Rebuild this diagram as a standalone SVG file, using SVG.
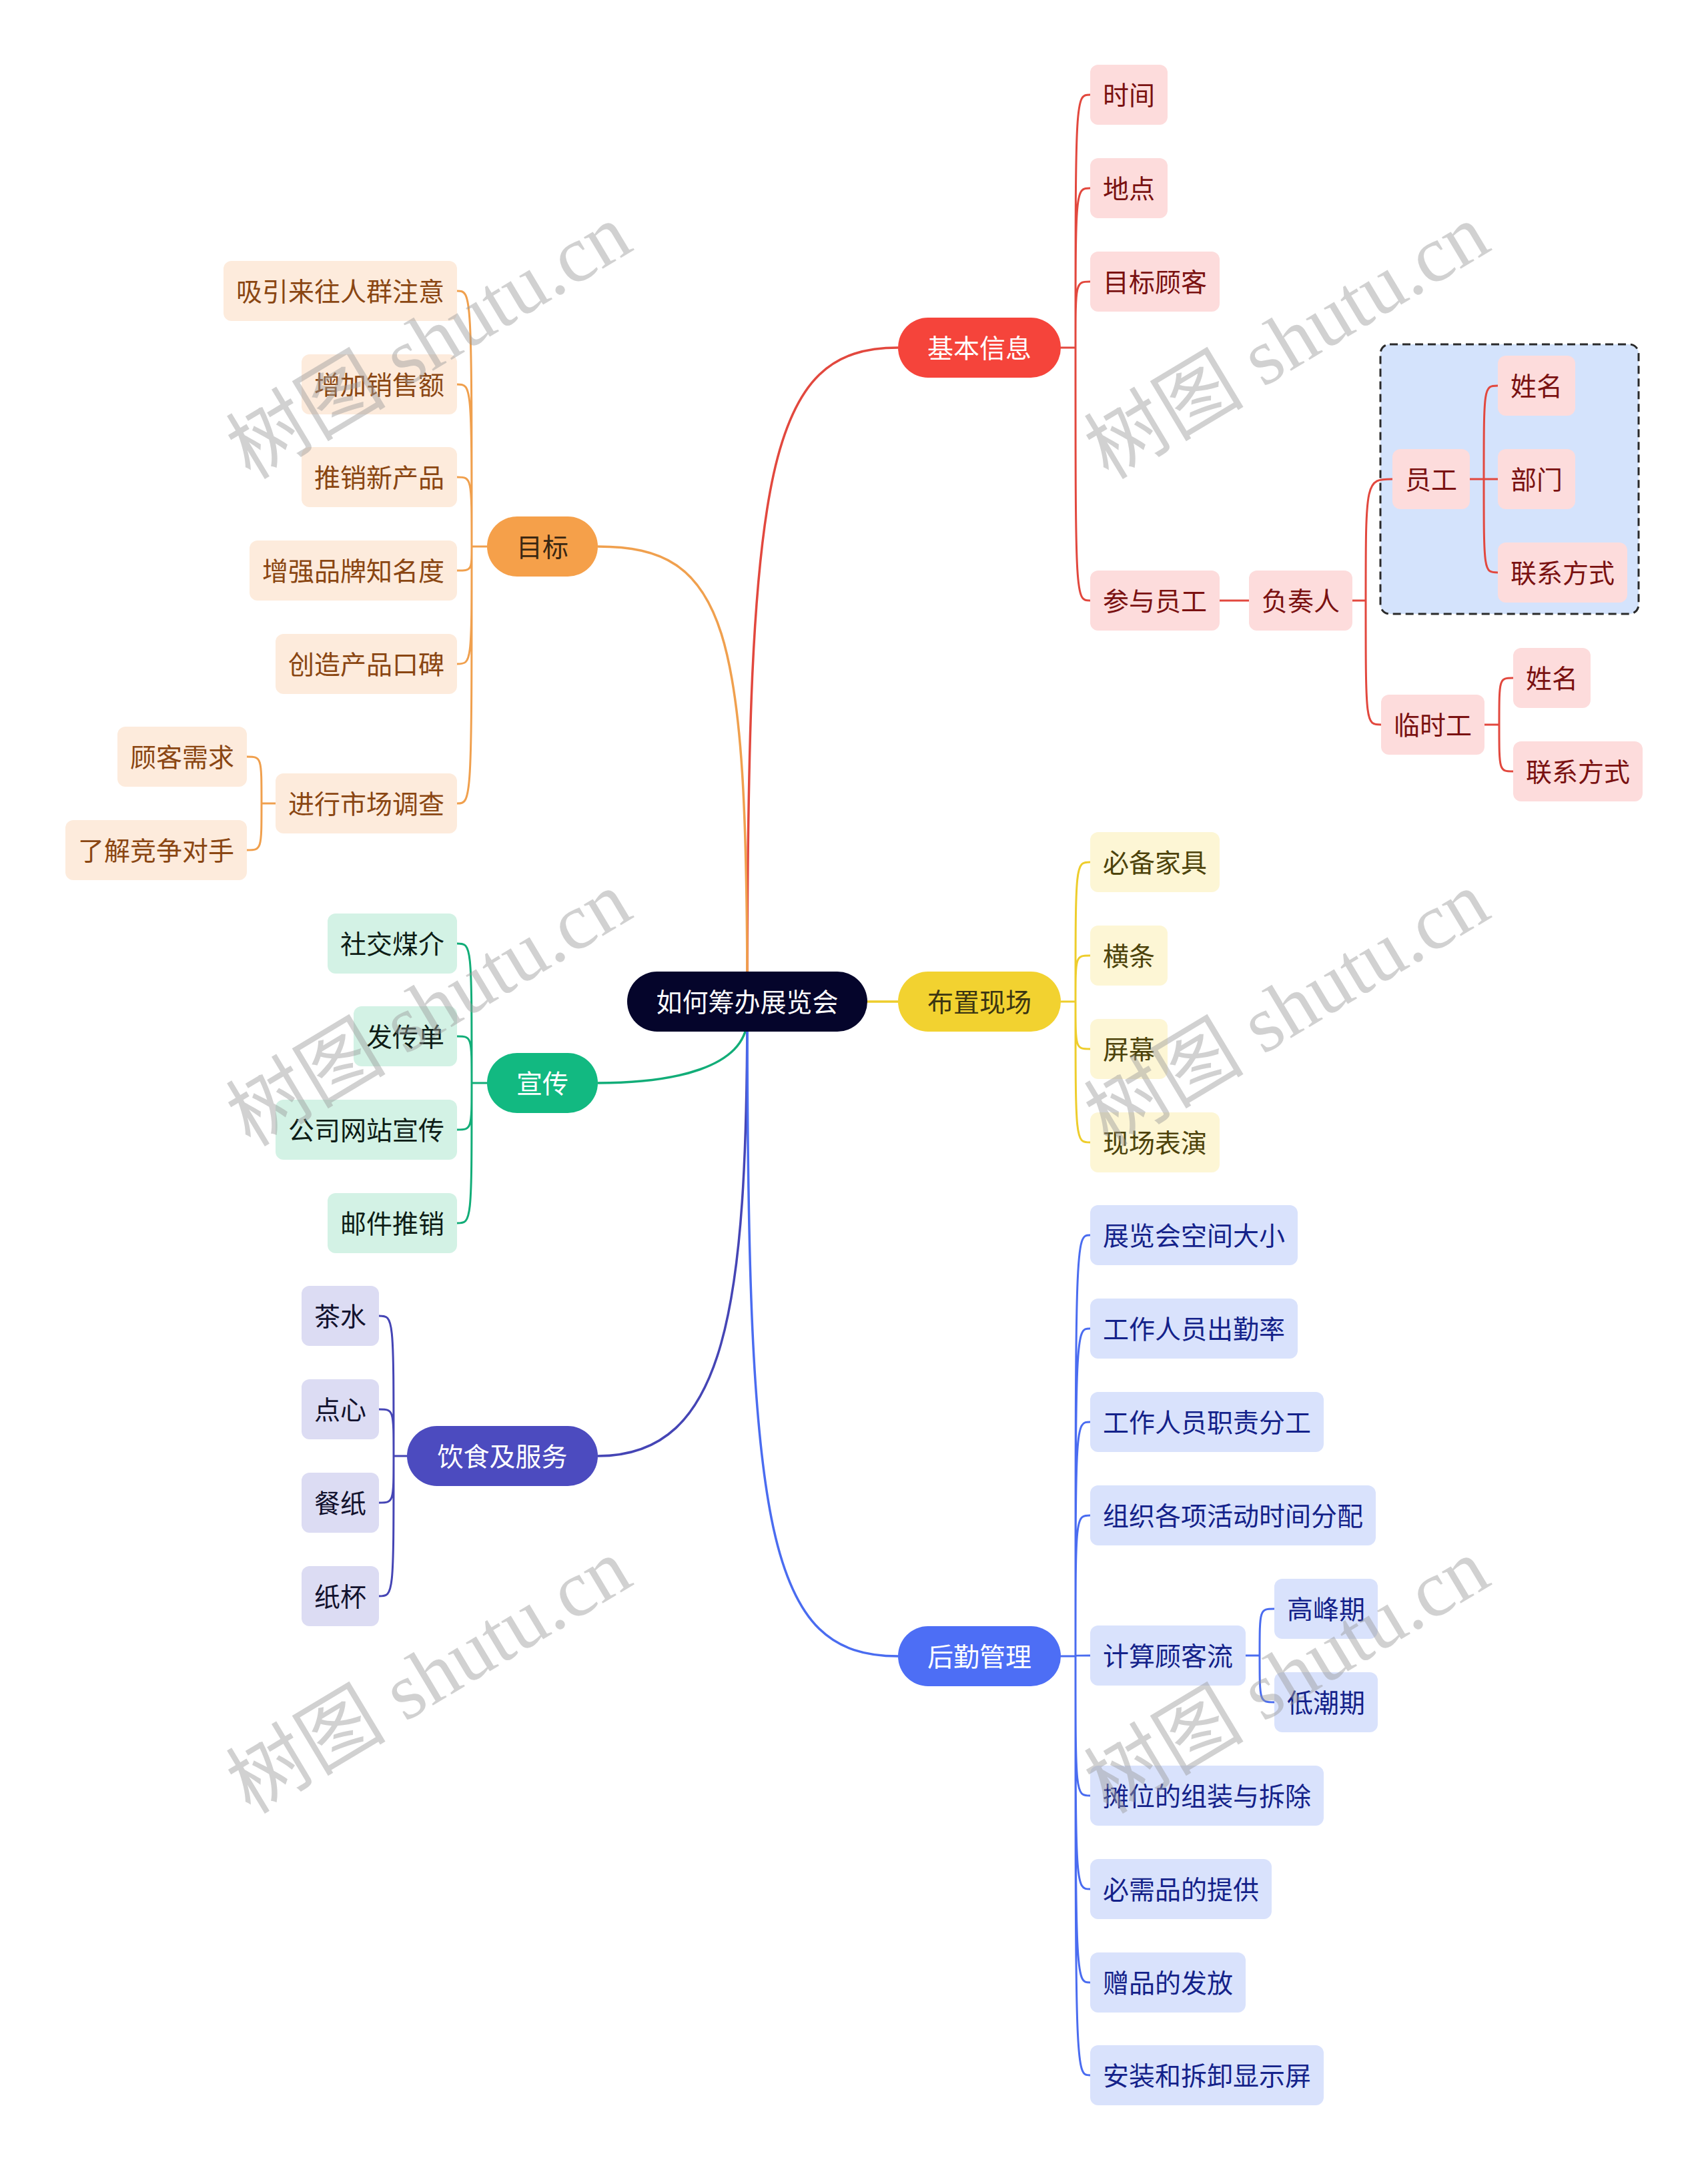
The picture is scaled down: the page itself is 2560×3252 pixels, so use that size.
<svg xmlns="http://www.w3.org/2000/svg" width="2560" height="3252" viewBox="0 0 2560 3252">
<style>
.t{font-family:"Noto Sans CJK SC","Noto Sans",sans-serif;font-size:39px;text-anchor:middle;dominant-baseline:central;transform:translateY(-2px)}
.wm{font-family:"Liberation Serif","Noto Sans CJK SC",serif;font-size:120px;fill:#9a9a9a;fill-opacity:.45;text-anchor:middle;dominant-baseline:central}
.c{fill:none;stroke-width:3;stroke-linecap:round}
.m{fill:none;stroke-width:3.5}
.red{stroke:#e2483e}.org{stroke:#f0a04e}.yel{stroke:#eecd2c}.grn{stroke:#12ad78}.ind{stroke:#4545b5}.blu{stroke:#4a6cf0}
.lr{fill:#fddcdc}.tr{fill:#7a1111}
.lo{fill:#fdebdc}.to{fill:#8a4612}
.ly{fill:#fdf6d5}.ty{fill:#4d430b}
.lg{fill:#d3f2e5}.tg{fill:#0e1d16}
.li{fill:#dcdcf3}.ti{fill:#12122e}
.lb{fill:#d9e2fc}.tb{fill:#14228a}
.w{fill:#ffffff}
</style>
<rect width="2560" height="3252" fill="#ffffff"/>
<rect id="group-yuangong" x="2069" y="516" width="387" height="404" rx="14" fill="#d4e3fc" stroke="#2a2a2a" stroke-width="3" stroke-dasharray="12 7"/>
<g id="connectors">
<path class="m red" d="M1120 1501C1120 700 1150 521 1346 521"/>
<path class="m org" d="M1120 1501C1120 940 1091 819 896 819"/>
<path class="m yel" d="M1120 1501H1346"/>
<path class="m grn" d="M1120 1530C1115 1600 1010 1623 896 1623"/>
<path class="m ind" d="M1120 1501C1120 1960 1090 2182 896 2182"/>
<path class="m blu" d="M1120 1501C1120 2300 1150 2482 1346 2482"/>
<path class="c red" d="M1590 521H1612C1612 142 1612 142 1634 142M1590 521H1612C1612 282 1612 282 1634 282M1590 521H1612C1612 422 1612 422 1634 422M1590 521H1612C1612 900 1612 900 1634 900M1828 900H1872M2027 900H2047C2047 718 2047 718 2087 718M2027 900H2047C2047 1086 2047 1086 2070 1086M2203 718H2224C2224 578 2224 578 2245 578M2203 718H2245M2203 718H2224C2224 858 2224 858 2245 858M2225 1086H2247C2247 1016 2247 1016 2268 1016M2225 1086H2247C2247 1156 2247 1156 2268 1156"/>
<path class="c yel" d="M1590 1501H1612C1612 1292 1612 1292 1634 1292M1590 1501H1612C1612 1432 1612 1432 1634 1432M1590 1501H1612C1612 1572 1612 1572 1634 1572M1590 1501H1612C1612 1712 1612 1712 1634 1712"/>
<path class="c blu" d="M1590 2482H1612C1612 1851 1612 1851 1634 1851M1590 2482H1612C1612 1991 1612 1991 1634 1991M1590 2482H1612C1612 2131 1612 2131 1634 2131M1590 2482H1612C1612 2271 1612 2271 1634 2271M1590 2482H1612C1612 2481 1612 2481 1634 2481M1590 2482H1612C1612 2691 1612 2691 1634 2691M1590 2482H1612C1612 2831 1612 2831 1634 2831M1590 2482H1612C1612 2971 1612 2971 1634 2971M1590 2482H1612C1612 3110 1612 3110 1634 3110M1867 2481H1888C1888 2411 1888 2411 1910 2411M1867 2481H1888C1888 2551 1888 2551 1910 2551"/>
<path class="c org" d="M730 819H707C707 436 707 436 685 436M730 819H707C707 576 707 576 685 576M730 819H707C707 715 707 715 685 715M730 819H707C707 855 707 855 685 855M730 819H707C707 995 707 995 685 995M730 819H707C707 1204 707 1204 685 1204M413 1204H392C392 1134 392 1134 370 1134M413 1204H392C392 1274 392 1274 370 1274"/>
<path class="c grn" d="M730 1623H707C707 1414 707 1414 685 1414M730 1623H707C707 1553 707 1553 685 1553M730 1623H707C707 1693 707 1693 685 1693M730 1623H707C707 1833 707 1833 685 1833"/>
<path class="c ind" d="M610 2182H590C590 1972 590 1972 568 1972M610 2182H590C590 2112 590 2112 568 2112M610 2182H590C590 2252 590 2252 568 2252M610 2182H590C590 2392 590 2392 568 2392"/>
</g>
<g id="root"><rect x="940" y="1456" width="360" height="90" rx="45" fill="#05052b"/><text class="t w" x="1120" y="1501">如何筹办展览会</text></g>
<g id="jibenxinxi"><rect x="1346" y="476" width="244" height="90" rx="45" fill="#f5443b"/><text class="t w" x="1468" y="521">基本信息</text></g>
<g id="buzhixianchang"><rect x="1346" y="1456" width="244" height="90" rx="45" fill="#f2d230"/><text class="t" fill="#3b3512" x="1468" y="1501">布置现场</text></g>
<g id="houqinguanli"><rect x="1346" y="2437" width="244" height="90" rx="45" fill="#4d6ef5"/><text class="t w" x="1468" y="2482">后勤管理</text></g>
<g id="mubiao"><rect x="730" y="774" width="166" height="90" rx="45" fill="#f5a04a"/><text class="t" fill="#3a2712" x="813" y="819">目标</text></g>
<g id="xuanchuan"><rect x="730" y="1578" width="166" height="90" rx="45" fill="#12b981"/><text class="t w" x="813" y="1623">宣传</text></g>
<g id="yinshi"><rect x="610" y="2137" width="286" height="90" rx="45" fill="#4c4bbf"/><text class="t w" x="753" y="2182">饮食及服务</text></g>

<g id="shijian"><rect class="lr" x="1634" y="97" width="116" height="90" rx="12"/><text class="t tr" x="1692" y="142">时间</text></g>
<g id="didian"><rect class="lr" x="1634" y="237" width="116" height="90" rx="12"/><text class="t tr" x="1692" y="282">地点</text></g>
<g id="mubiaoguke"><rect class="lr" x="1634" y="377" width="194" height="90" rx="12"/><text class="t tr" x="1731" y="422">目标顾客</text></g>
<g id="canyuyuangong"><rect class="lr" x="1634" y="855" width="194" height="90" rx="12"/><text class="t tr" x="1731" y="900">参与员工</text></g>
<g id="fuzeren"><rect class="lr" x="1872" y="855" width="155" height="90" rx="12"/><text class="t tr" x="1949.5" y="900">负奏人</text></g>
<g id="yuangong"><rect class="lr" x="2087" y="673" width="116" height="90" rx="12"/><text class="t tr" x="2145" y="718">员工</text></g>
<g id="xingming1"><rect class="lr" x="2245" y="533" width="116" height="90" rx="12"/><text class="t tr" x="2303" y="578">姓名</text></g>
<g id="bumen"><rect class="lr" x="2245" y="673" width="116" height="90" rx="12"/><text class="t tr" x="2303" y="718">部门</text></g>
<g id="lianxi1"><rect class="lr" x="2245" y="813" width="194" height="90" rx="12"/><text class="t tr" x="2342" y="858">联系方式</text></g>
<g id="linshigong"><rect class="lr" x="2070" y="1041" width="155" height="90" rx="12"/><text class="t tr" x="2147.5" y="1086">临时工</text></g>
<g id="xingming2"><rect class="lr" x="2268" y="971" width="116" height="90" rx="12"/><text class="t tr" x="2326" y="1016">姓名</text></g>
<g id="lianxi2"><rect class="lr" x="2268" y="1111" width="194" height="90" rx="12"/><text class="t tr" x="2365" y="1156">联系方式</text></g>

<g id="jiaju"><rect class="ly" x="1634" y="1247" width="194" height="90" rx="12"/><text class="t ty" x="1731" y="1292">必备家具</text></g>
<g id="hengtiao"><rect class="ly" x="1634" y="1387" width="116" height="90" rx="12"/><text class="t ty" x="1692" y="1432">横条</text></g>
<g id="pingmu"><rect class="ly" x="1634" y="1527" width="116" height="90" rx="12"/><text class="t ty" x="1692" y="1572">屏幕</text></g>
<g id="biaoyan"><rect class="ly" x="1634" y="1667" width="194" height="90" rx="12"/><text class="t ty" x="1731" y="1712">现场表演</text></g>

<g id="kongjian"><rect class="lb" x="1634" y="1806" width="311" height="90" rx="12"/><text class="t tb" x="1789.5" y="1851">展览会空间大小</text></g>
<g id="chuqin"><rect class="lb" x="1634" y="1946" width="311" height="90" rx="12"/><text class="t tb" x="1789.5" y="1991">工作人员出勤率</text></g>
<g id="fengong"><rect class="lb" x="1634" y="2086" width="350" height="90" rx="12"/><text class="t tb" x="1809" y="2131">工作人员职责分工</text></g>
<g id="shijianfenpei"><rect class="lb" x="1634" y="2226" width="428" height="90" rx="12"/><text class="t tb" x="1848" y="2271">组织各项活动时间分配</text></g>
<g id="keliu"><rect class="lb" x="1634" y="2436" width="233" height="90" rx="12"/><text class="t tb" x="1750.5" y="2481">计算顾客流</text></g>
<g id="gaofeng"><rect class="lb" x="1910" y="2366" width="155" height="90" rx="12"/><text class="t tb" x="1987.5" y="2411">高峰期</text></g>
<g id="dichao"><rect class="lb" x="1910" y="2506" width="155" height="90" rx="12"/><text class="t tb" x="1987.5" y="2551">低潮期</text></g>
<g id="tanwei"><rect class="lb" x="1634" y="2646" width="350" height="90" rx="12"/><text class="t tb" x="1809" y="2691">摊位的组装与拆除</text></g>
<g id="bixupin"><rect class="lb" x="1634" y="2786" width="272" height="90" rx="12"/><text class="t tb" x="1770" y="2831">必需品的提供</text></g>
<g id="zengpin"><rect class="lb" x="1634" y="2926" width="233" height="90" rx="12"/><text class="t tb" x="1750.5" y="2971">赠品的发放</text></g>
<g id="xianshiping"><rect class="lb" x="1634" y="3065" width="350" height="90" rx="12"/><text class="t tb" x="1809" y="3110">安装和拆卸显示屏</text></g>

<g id="xiyin"><rect class="lo" x="335" y="391" width="350" height="90" rx="12"/><text class="t to" x="510" y="436">吸引来往人群注意</text></g>
<g id="xiaoshou"><rect class="lo" x="452" y="531" width="233" height="90" rx="12"/><text class="t to" x="568.5" y="576">增加销售额</text></g>
<g id="xinchanpin"><rect class="lo" x="452" y="670" width="233" height="90" rx="12"/><text class="t to" x="568.5" y="715">推销新产品</text></g>
<g id="pinpai"><rect class="lo" x="374" y="810" width="311" height="90" rx="12"/><text class="t to" x="529.5" y="855">增强品牌知名度</text></g>
<g id="koubei"><rect class="lo" x="413" y="950" width="272" height="90" rx="12"/><text class="t to" x="549" y="995">创造产品口碑</text></g>
<g id="diaocha"><rect class="lo" x="413" y="1159" width="272" height="90" rx="12"/><text class="t to" x="549" y="1204">进行市场调查</text></g>
<g id="xuqiu"><rect class="lo" x="176" y="1089" width="194" height="90" rx="12"/><text class="t to" x="273" y="1134">顾客需求</text></g>
<g id="duishou"><rect class="lo" x="98" y="1229" width="272" height="90" rx="12"/><text class="t to" x="234" y="1274">了解竞争对手</text></g>

<g id="meijie"><rect class="lg" x="491" y="1369" width="194" height="90" rx="12"/><text class="t tg" x="588" y="1414">社交煤介</text></g>
<g id="chuandan"><rect class="lg" x="530" y="1508" width="155" height="90" rx="12"/><text class="t tg" x="607.5" y="1553">发传单</text></g>
<g id="wangzhan"><rect class="lg" x="413" y="1648" width="272" height="90" rx="12"/><text class="t tg" x="549" y="1693">公司网站宣传</text></g>
<g id="youjian"><rect class="lg" x="491" y="1788" width="194" height="90" rx="12"/><text class="t tg" x="588" y="1833">邮件推销</text></g>

<g id="chashui"><rect class="li" x="452" y="1927" width="116" height="90" rx="12"/><text class="t ti" x="510" y="1972">茶水</text></g>
<g id="dianxin"><rect class="li" x="452" y="2067" width="116" height="90" rx="12"/><text class="t ti" x="510" y="2112">点心</text></g>
<g id="canzhi"><rect class="li" x="452" y="2207" width="116" height="90" rx="12"/><text class="t ti" x="510" y="2252">餐纸</text></g>
<g id="zhibei"><rect class="li" x="452" y="2347" width="116" height="90" rx="12"/><text class="t ti" x="510" y="2392">纸杯</text></g>

<g id="watermarks">
<text class="wm" transform="translate(643 512) rotate(-31)">树图 shutu.cn</text>
<text class="wm" transform="translate(1929 512) rotate(-31)">树图 shutu.cn</text>
<text class="wm" transform="translate(643 1512) rotate(-31)">树图 shutu.cn</text>
<text class="wm" transform="translate(1929 1512) rotate(-31)">树图 shutu.cn</text>
<text class="wm" transform="translate(643 2512) rotate(-31)">树图 shutu.cn</text>
<text class="wm" transform="translate(1929 2512) rotate(-31)">树图 shutu.cn</text>
</g>
</svg>
